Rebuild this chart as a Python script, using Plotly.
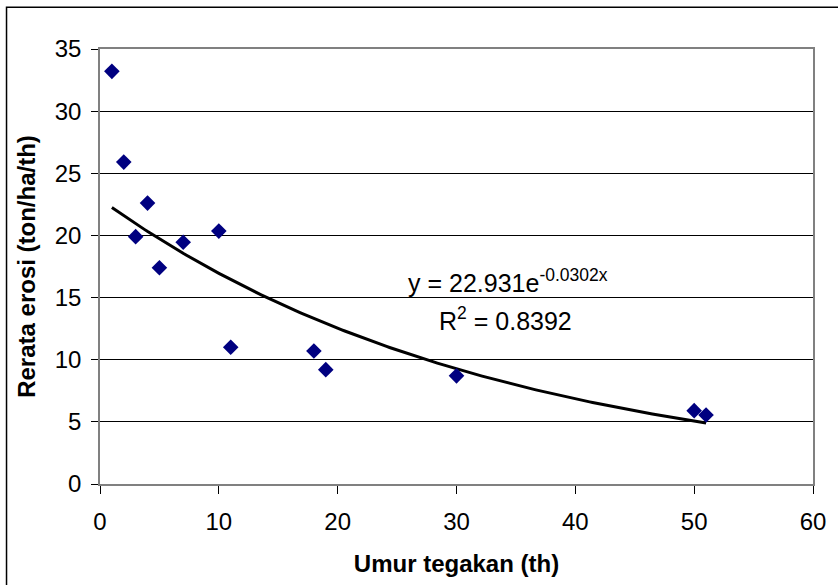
import numpy as np
import plotly.graph_objects as go

umur = [1, 2, 3, 4, 5, 7, 10, 11, 18, 19, 30, 50, 51]
erosi = [33.2, 25.9, 19.9, 22.6, 17.4, 19.45, 20.35, 11.0, 10.7, 9.2, 8.7, 5.9, 5.55]

coef_a = 22.931
coef_b = -0.0302
r2 = 0.8392

xs = np.linspace(min(umur), max(umur), 200)
ys = coef_a * np.exp(coef_b * xs)

fig = go.Figure()
fig.add_trace(go.Scatter(x=xs, y=ys, mode="lines", line=dict(color="black", width=3),
                         hoverinfo="skip", showlegend=False))
fig.add_trace(go.Scatter(x=umur, y=erosi, mode="markers",
                         marker=dict(symbol="diamond", size=12, color="#000080"),
                         showlegend=False))

font = "Liberation Sans, Arial, sans-serif"
fig.update_layout(
    width=838, height=585,
    margin=dict(l=100, r=21, t=49, b=99),
    paper_bgcolor="white", plot_bgcolor="white",
    font=dict(family=font, size=24, color="black"),
    xaxis=dict(range=[0, 60], dtick=10, showgrid=False, zeroline=False,
               ticks="outside", ticklen=8, tickcolor="black", tickwidth=1,
               showline=True, linecolor="#808080", linewidth=1.5, mirror=True,
               tickfont=dict(size=24), ticklabelstandoff=7,
               title=dict(text="<b>Umur tegakan (th)</b>", font=dict(size=24), standoff=22)),
    yaxis=dict(range=[0, 35], dtick=5, showgrid=True, gridcolor="black", gridwidth=1,
               zeroline=False, ticks="outside", ticklen=7, tickcolor="black", tickwidth=1,
               showline=True, linecolor="#808080", linewidth=1.5, mirror=True,
               tickfont=dict(size=24), ticklabelstandoff=5,
               title=dict(text="<b>Rerata erosi (ton/ha/th)</b>", font=dict(size=24), standoff=12)),
    shapes=[dict(type="rect", xref="paper", yref="paper",
                 x0=(6 - 100) / 717, x1=(860 - 100) / 717,
                 y0=(486 - 600) / 437, y1=(486 - 7) / 437,
                 line=dict(color="black", width=1.5), fillcolor="rgba(0,0,0,0)", layer="below")],
    annotations=[
        dict(x=(510 - 100) / 717 , y=(486 - 282) / 437, xref="paper", yref="paper",
             text=f"y = {coef_a}e<sup>{coef_b}x</sup>", showarrow=False,
             font=dict(size=25), xanchor="center", yanchor="middle"),
        dict(x=(508 - 100) / 717, y=(486 - 320) / 437, xref="paper", yref="paper",
             text=f"R<sup>2</sup> = {r2}", showarrow=False,
             font=dict(size=25), xanchor="center", yanchor="middle"),
    ],
)

fig.write_html("out.html")
